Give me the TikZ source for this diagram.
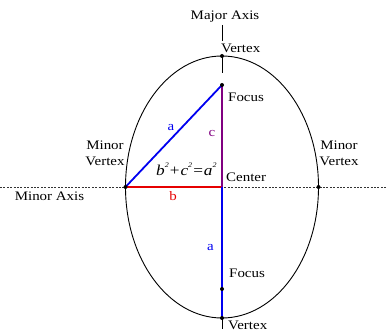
\documentclass[tikz,border=0pt]{standalone}
\usepackage{fontspec}
\setmainfont{Liberation Serif}[FakeStretch=1.15]
\usepackage{xcolor}
\usetikzlibrary{positioning, calc}

\definecolor{lineblue}{RGB}{0,0,240}
\definecolor{linered}{RGB}{230,0,0}
\definecolor{linepurple}{RGB}{128,0,128}

\newcommand{\sqr}[1]{#1\raisebox{0.55em}{\fontsize{7}{7}\selectfont 2}}

\begin{document}
\begin{tikzpicture}[
        x=1pt, y=-1pt,
        font=\fontsize{13}{16}\selectfont,
        lbl/.style={inner sep=0pt, anchor=base west},
        curve/.style={draw=black, line width=0.9pt},
        majoraxis/.style={draw=black, line width=0.8pt, dash pattern=on 16pt off 16pt},
        minoraxis/.style={draw=black!80, line width=0.7pt, dash pattern=on 2pt off 1.4pt},
        seg/.style={line width=1.8pt},
        pt/.style={circle, fill=black, inner sep=0pt, minimum size=4pt},
    ]
    \useasboundingbox (0,0) rectangle (386,331);
    % key points
    \coordinate (center) at (222,187);
    \coordinate (topV) at (222,56);
    \coordinate (botV) at (222,318);
    \coordinate (leftV) at (125.5,187);
    \coordinate (rightV) at (318.5,187);
    \coordinate (topF) at (222,85);
    \coordinate (botF) at (222,289);
    \coordinate (axTop) at (222,25);
    \coordinate (axBot) at (222,331);
    \coordinate (axLeft) at (0,187);
    \coordinate (axRight) at (386,187);
    % axes and ellipse
    \draw[minoraxis] (axLeft) -- (axRight);
    \draw[majoraxis] (axTop) -- (axBot);
    \draw[curve] (center) ellipse [x radius=96.5, y radius=131];
    % triangle and semi-axis
    \draw[seg, draw=linered] (leftV) -- (center);
    \draw[seg, draw=linepurple] (topF) -- (center);
    \draw[seg, draw=lineblue] (leftV) -- (topF);
    \draw[seg, draw=lineblue] (center) -- (botV);
    % points
    \foreach \p in {topV, botV, leftV, rightV, topF, botF}
        \node[pt] at (\p) {};
    % labels
    \node[inner sep=0pt, anchor=base] (majlbl) at (225,20) {Major Axis};
    \node[lbl] (vtxTop) at (221,53) {Vertex};
    \node[lbl] (focTop) at (228,102) {Focus};
    \node[inner sep=0pt, anchor=base, text=lineblue] (aTop) at (171,131) {a};
    \node[inner sep=0pt, anchor=base, text=linepurple] (cLbl) at (212,137) {c};
    \node[lbl, font=\fontsize{15}{18}\selectfont\itshape] (formula) at (156,176)
        {\sqr{b}\kern1pt\upshape+\kern1pt\itshape\sqr{c}\kern1pt\upshape=\kern1pt\itshape\sqr{a}};
    \node[inner sep=0pt, align=center, anchor=base] (minVL) at (105,166) {Minor\\Vertex};
    \node[inner sep=0pt, align=center, anchor=base] (minVR) at (339,166) {Minor\\Vertex};
    \node[lbl] (cenLbl) at (226,181.5) {Center};
    \node[inner sep=0pt, anchor=base] (minAx) at (49.5,201) {Minor Axis};
    \node[inner sep=0pt, anchor=base, text=linered] (bLbl) at (173,201) {b};
    \node[inner sep=0pt, anchor=base, text=lineblue] (aBot) at (210.5,251) {a};
    \node[lbl] (focBot) at (229,278) {Focus};
    \node[lbl] (vtxBot) at (228,329.5) {Vertex};
\end{tikzpicture}
\end{document}
